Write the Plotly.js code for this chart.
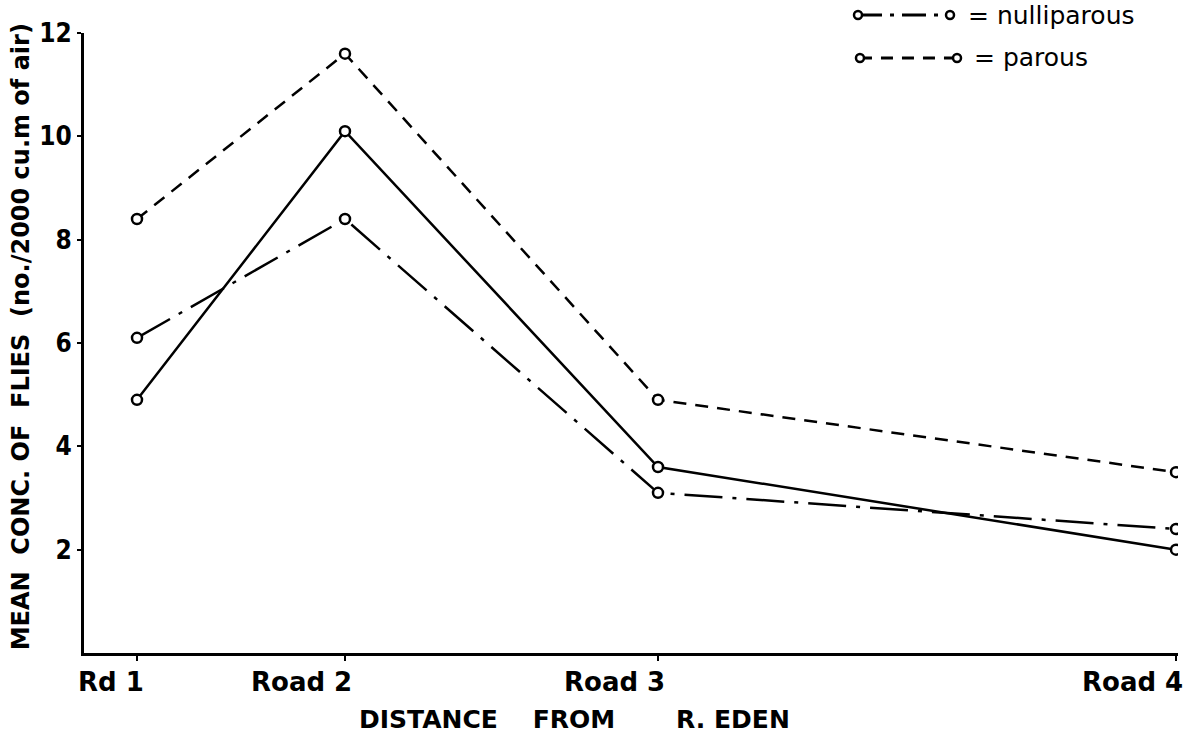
<!DOCTYPE html>
<html>
<head>
<meta charset="utf-8">
<script src="https://cdn.plot.ly/plotly-3.0.1.min.js"></script>
<style>html,body{margin:0;padding:0;background:#fff;}#chart{width:1189px;height:733px;}</style>
</head>
<body>
<div id="chart"></div>
<script>
// Site positions along the distance axis (relative distance units from R. Eden)
const siteDistance = [0.53, 2.61, 5.74, 10.92];
const siteLabels = ["Rd 1", "Road 2", "Road 3", "Road 4"];
// Mean concentration of flies (no./2000 cu.m of air)
const totalFlies = [4.9, 10.1, 3.6, 2.0];
const nulliparous = [6.1, 8.4, 3.1, 2.4];
const parous = [8.4, 11.6, 4.9, 3.5];
const yTicks = [2, 4, 6, 8, 10, 12];

const FONT = "DejaVu Sans, sans-serif";
const FONTC = "DejaVu Sans Condensed, DejaVu Sans, sans-serif";
const marker = {symbol: "circle", size: 10, color: "#fff", line: {color: "#000", width: 2.5}};

const traces = [
  {x: siteDistance, y: totalFlies, mode: "lines+markers", name: "total",
   line: {color: "#000", width: 2.5}, marker: marker, showlegend: false},
  {x: siteDistance, y: nulliparous, mode: "lines+markers", name: "nulliparous",
   line: {color: "#000", width: 2.5, dash: "38px,10px,4px,10px"}, marker: marker, showlegend: false},
  {x: siteDistance, y: parous, mode: "lines+markers", name: "parous",
   line: {color: "#000", width: 2.5, dash: "13px,9px"}, marker: marker, showlegend: false}
];

const annotations = siteLabels.map((t, i) => ({
  x: siteDistance[i], y: 0, xref: "x", yref: "y", text: t, showarrow: false,
  xanchor: "right", yanchor: "top", xshift: 9, yshift: -12,
  font: {family: FONT, size: 26, color: "#000", weight: "bold"}
}));
annotations.push({
  x: 0.448, y: -0.108, xref: "paper", yref: "paper", showarrow: false,
  text: "DISTANCE\u00A0\u00A0\u00A0\u00A0FROM\u00A0\u00A0\u00A0\u00A0\u00A0\u00A0\u00A0R. EDEN",
  xanchor: "center", yanchor: "middle",
  font: {family: FONT, size: 25, color: "#000", weight: "bold"}
});
annotations.push({
  x: -0.058, y: 0.51, xref: "paper", yref: "paper", showarrow: false, textangle: -90,
  text: "MEAN\u00A0\u00A0CONC.\u00A0OF\u00A0\u00A0FLIES\u00A0\u00A0(no./2000 cu.m of air)",
  xanchor: "center", yanchor: "middle",
  font: {family: FONT, size: 24, color: "#000", weight: "bold"}
});
// legend texts
annotations.push({x: 0.806, y: 1.029, xref: "paper", yref: "paper", showarrow: false,
  text: "= nulliparous", xanchor: "left", yanchor: "middle",
  font: {family: FONT, size: 25, color: "#000"}});
annotations.push({x: 0.8117, y: 0.9597, xref: "paper", yref: "paper", showarrow: false,
  text: "= parous", xanchor: "left", yanchor: "middle",
  font: {family: FONT, size: 25, color: "#000"}});

function legendSample(x0, x1, y, dash) {
  const out = [{type: "line", xref: "paper", yref: "paper", x0: x0, x1: x1, y0: y, y1: y,
    line: {color: "#000", width: 3, dash: dash}}];
  [x0, x1].forEach(xc => out.push({type: "circle", xref: "paper", yref: "paper",
    xsizemode: "pixel", ysizemode: "pixel", xanchor: xc, yanchor: y,
    x0: -4, x1: 4, y0: -4, y1: 4, fillcolor: "#fff", line: {color: "#000", width: 2.5}}));
  return out;
}
const shapes = [].concat(
  legendSample(0.7075, 0.7916, 1.029, "24px,8px,4px,8px"),
  legendSample(0.7093, 0.798, 0.9597, "12px,9px")
);

const layout = {
  width: 1189, height: 733,
  margin: {l: 84, r: 11, t: 33, b: 80},
  paper_bgcolor: "#fff", plot_bgcolor: "#fff",
  showlegend: false,
  xaxis: {range: [0, 10.94], showgrid: false, zeroline: false, showline: true,
    linecolor: "#000", linewidth: 3, ticks: "outside", ticklen: 5, tickwidth: 2,
    tickcolor: "#000", tickvals: siteDistance, showticklabels: false, fixedrange: true},
  yaxis: {range: [0, 12], showgrid: false, zeroline: false, showline: true,
    linecolor: "#000", linewidth: 3, ticks: "outside", ticklen: 4, tickwidth: 2,
    tickcolor: "#000", tickvals: yTicks, ticktext: yTicks.map(String),
    tickfont: {family: FONTC, size: 26, color: "#000", weight: "bold"}, fixedrange: true},
  annotations: annotations,
  shapes: shapes
};

Plotly.newPlot("chart", traces, layout, {displayModeBar: false, staticPlot: true});
</script>
</body>
</html>
